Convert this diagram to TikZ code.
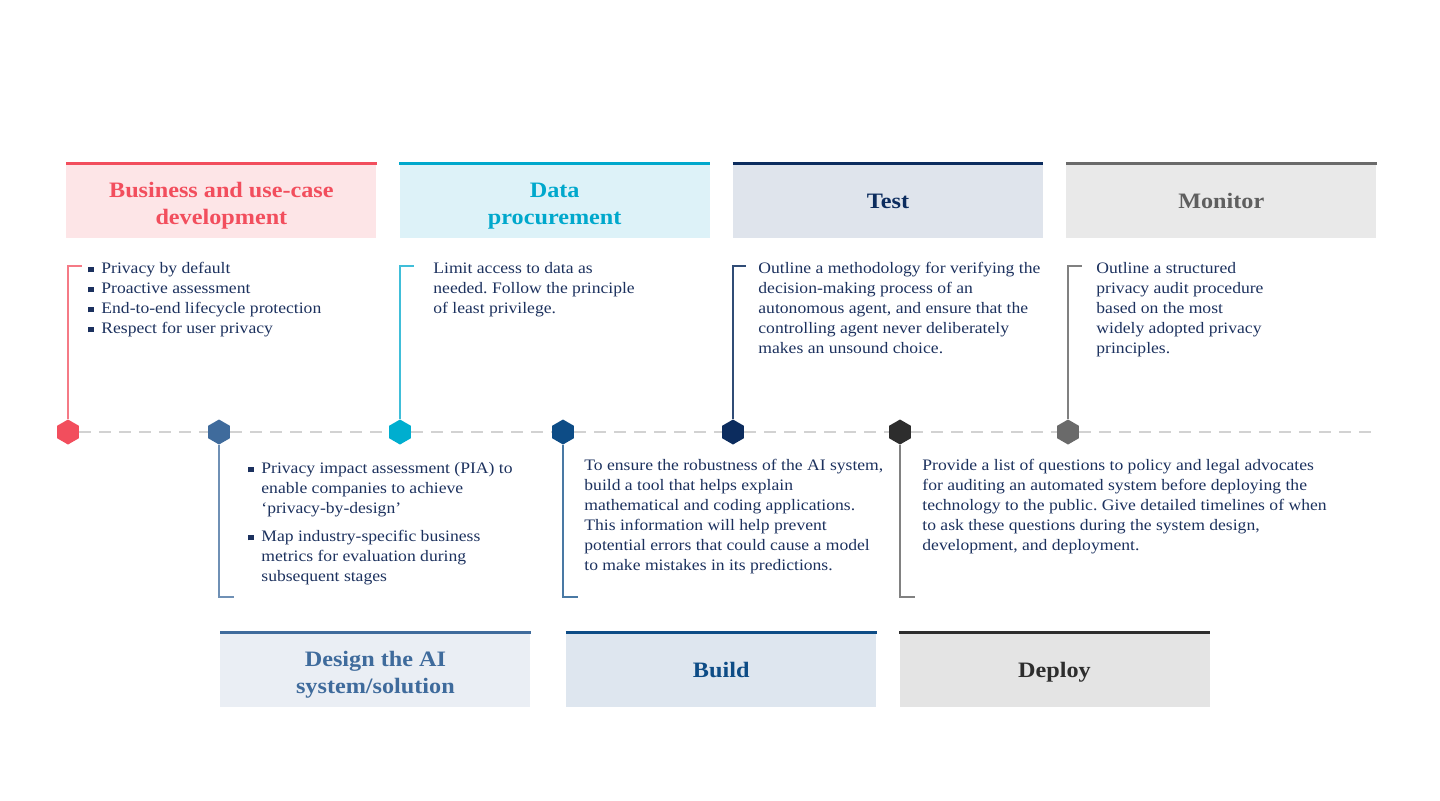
\documentclass[tikz,border=0pt]{standalone}
\usepackage{fontspec}
\setmainfont{Liberation Serif}[FakeStretch=1.1]
\usepackage{xcolor}
\usetikzlibrary{positioning,shapes.geometric}
\frenchspacing

\definecolor{bizred}{HTML}{F24E5D}
\definecolor{bizfill}{HTML}{FDE5E7}
\definecolor{datacyan}{HTML}{00A8CC}
\definecolor{hexcyan}{HTML}{00AECF}
\definecolor{datafill}{HTML}{DDF2F8}
\definecolor{testnavy}{HTML}{0C2C5E}
\definecolor{testfill}{HTML}{DFE4EC}
\definecolor{mongrey}{HTML}{5F5F5F}
\definecolor{monbar}{HTML}{6A6A6A}
\definecolor{monfill}{HTML}{E9E9E9}
\definecolor{designblue}{HTML}{3F6B9C}
\definecolor{designfill}{HTML}{EAEEF4}
\definecolor{buildblue}{HTML}{0D4C86}
\definecolor{buildfill}{HTML}{DEE6EF}
\definecolor{deploydark}{HTML}{2D2D2D}
\definecolor{deployfill}{HTML}{E4E4E4}
\definecolor{bodytext}{HTML}{1C315E}
\definecolor{dashgrey}{HTML}{D2D2D2}

\newcommand{\sqbul}{\makebox[6.5pt][l]{\rule[0.6pt]{2.6pt}{2.6pt}}}

\begin{document}
\begin{tikzpicture}[
    x=0.5pt, y=-0.5pt,
    node distance=11.25pt,
    phase/.style={rectangle, minimum width=155pt, minimum height=37.5pt, inner sep=0pt},
    title/.style={align=center, inner sep=0pt, font=\fontsize{11}{13.5}\selectfont\bfseries},
    bar/.style={line width=1.5pt},
    hex/.style={regular polygon, regular polygon sides=6, shape border rotate=90, minimum size=12.5pt, inner sep=0pt},
    leader/.style={line width=0.55pt},
    timeline/.style={draw=dashgrey, line width=0.75pt, dash pattern=on 6pt off 4pt},
    note/.style={anchor=north west, align=left, inner sep=0pt, text=bodytext, font=\fontsize{8}{10}\selectfont}
  ]
  \useasboundingbox (0,0) rectangle (1440,800);

  % Top phases
  \node[phase, fill=bizfill, anchor=north west] (biz_box) at (66,163) {};
  \node[phase, fill=datafill, right=of biz_box] (data_box) {};
  \node[phase, fill=testfill, right=of data_box] (test_box) {};
  \node[phase, fill=monfill, right=of test_box] (mon_box) {};

  % Bottom phases
  \node[phase, fill=designfill, anchor=north west] (design_box) at (220,632) {};
  \node[phase, fill=buildfill, right=17.5pt of design_box] (build_box) {};
  \node[phase, fill=deployfill, right=of build_box] (deploy_box) {};

  % Top bars
  \draw[bar, bizred] (biz_box.north west) -- (biz_box.north east);
  \draw[bar, datacyan] (data_box.north west) -- (data_box.north east);
  \draw[bar, testnavy] (test_box.north west) -- (test_box.north east);
  \draw[bar, monbar] (mon_box.north west) -- (mon_box.north east);
  \draw[bar, designblue] (design_box.north west) -- (design_box.north east);
  \draw[bar, buildblue] (build_box.north west) -- (build_box.north east);
  \draw[bar, deploydark] (deploy_box.north west) -- (deploy_box.north east);

  % Titles
  \node[title, text=bizred] (biz_title) at ([yshift=-2.5pt]biz_box.center) {Business and use-case\\development};
  \node[title, text=datacyan] (data_title) at ([yshift=-2.5pt]data_box.center) {Data\\procurement};
  \node[title, text=testnavy] (test_title) at (test_box.center) {Test};
  \node[title, text=mongrey] (mon_title) at (mon_box.center) {Monitor};
  \node[title, text=designblue] (design_title) at ([yshift=-2.5pt]design_box.center) {Design the AI\\system/solution};
  \node[title, text=buildblue] (build_title) at (build_box.center) {Build};
  \node[title, text=deploydark] (deploy_title) at ([yshift=-1pt]deploy_box.center) {Deploy};

  % Milestones
  \node[hex, fill=bizred] (hex1) at (68,432) {};
  \node[hex, fill=designblue] (hex2) at (219,432) {};
  \node[hex, fill=hexcyan] (hex3) at (400,432) {};
  \node[hex, fill=buildblue] (hex4) at (563,432) {};
  \node[hex, fill=testnavy] (hex5) at (733,432) {};
  \node[hex, fill=deploydark] (hex6) at (900,432) {};
  \node[hex, fill=monbar] (hex7) at (1068,432) {};
  \coordinate (tl_end) at (1375,432);

  % Timeline
  \draw[timeline] (hex1) -- (hex2);
  \draw[timeline] (hex2) -- (hex3);
  \draw[timeline] (hex3) -- (hex4);
  \draw[timeline] (hex4) -- (hex5);
  \draw[timeline] (hex5) -- (hex6);
  \draw[timeline] (hex6) -- (hex7);
  \draw[timeline] (hex7) -- (tl_end);

  % Leader ends
  \coordinate (lead1) at (82,266);
  \coordinate (lead2) at (234,597);
  \coordinate (lead3) at (414,266);
  \coordinate (lead4) at (578,597);
  \coordinate (lead5) at (746,266);
  \coordinate (lead6) at (915,597);
  \coordinate (lead7) at (1082,266);

  \draw[leader, bizred!75] (hex1) |- (lead1);
  \draw[leader, designblue!75] (hex2) |- (lead2);
  \draw[leader, datacyan!75] (hex3) |- (lead3);
  \draw[leader, buildblue!75] (hex4) |- (lead4);
  \draw[leader, testnavy!85] (hex5) |- (lead5);
  \draw[leader, deploydark!60] (hex6) |- (lead6);
  \draw[leader, monbar!85] (hex7) |- (lead7);

  % Notes above the timeline
  \node[note] (biz_note) at (88,262) {\sqbul Privacy by default\\\sqbul Proactive assessment\\\sqbul End-to-end lifecycle protection\\\sqbul Respect for user privacy};
  \node[note] (data_note) at (433,262) {Limit access to data as\\needed. Follow the principle\\of least privilege.};
  \node[note] (test_note) at (758,262) {Outline a methodology for verifying the\\decision-making process of an\\autonomous agent, and ensure that the\\controlling agent never deliberately\\makes an unsound choice.};
  \node[note] (mon_note) at (1096,262) {Outline a structured\\privacy audit procedure\\based on the most\\widely adopted privacy\\principles.};

  % Notes below the timeline
  \node[note] (design_note) at (248,462) {\sqbul Privacy impact assessment (PIA) to\\\hspace*{6.5pt}enable companies to achieve\\\hspace*{6.5pt}‘privacy-by-design’\\[4pt]\sqbul Map industry-specific business\\\hspace*{6.5pt}metrics for evaluation during\\\hspace*{6.5pt}subsequent stages};
  \node[note] (build_note) at (584,459) {To ensure the robustness of the AI system,\\build a tool that helps explain\\mathematical and coding applications.\\This information will help prevent\\potential errors that could cause a model\\to make mistakes in its predictions.};
  \node[note] (deploy_note) at (922,459) {Provide a list of questions to policy and legal advocates\\for auditing an automated system before deploying the\\technology to the public. Give detailed timelines of when\\to ask these questions during the system design,\\development, and deployment.};

\end{tikzpicture}
\end{document}
